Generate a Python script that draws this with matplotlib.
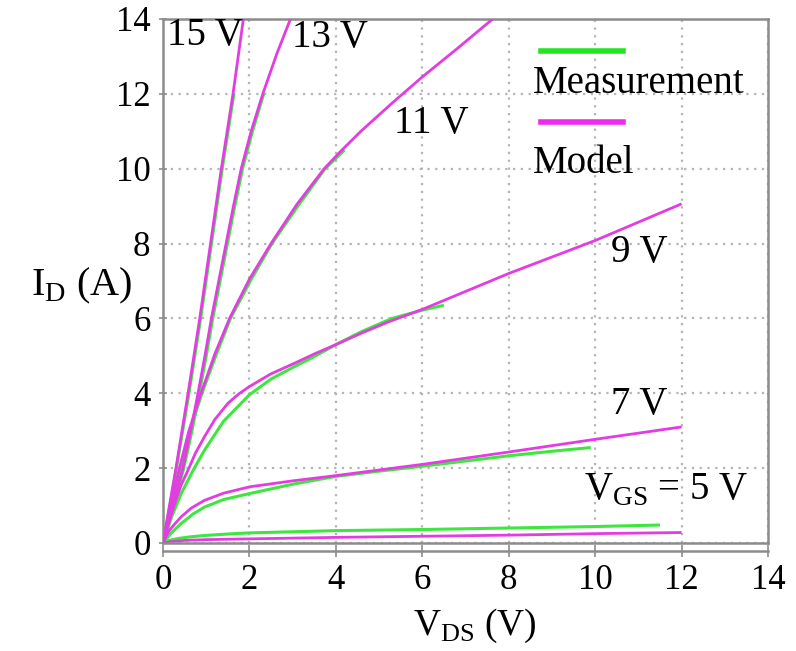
import matplotlib
matplotlib.use("Agg")
import matplotlib.pyplot as plt
from matplotlib.lines import Line2D

plt.rcParams['font.family'] = ['Liberation Serif', 'DejaVu Serif']
plt.rcParams['mathtext.fontset'] = 'custom'
plt.rcParams['mathtext.rm'] = 'Liberation Serif'

# Output characteristics I_D(V_DS) for several gate voltages
# model curves
vds_m15 = [0, 0.15, 0.30, 0.58, 0.85, 1.10, 1.35, 1.62, 1.74, 1.86]
id_m15 = [0, 1, 2, 4, 6, 8, 10, 12, 13, 14]
vds_m13 = [0, 0.25, 0.46, 0.64, 0.81, 0.97, 1.12, 1.29, 1.46, 1.63, 1.81, 2.04, 2.31, 2.63, 2.95]
id_m13 = [0, 1.1, 2, 3, 4, 5, 6, 7, 8, 9, 10, 11, 12, 13.06, 14]
vds_m11 = [0, 0.20, 0.38, 0.60, 0.88, 1.20, 1.54, 2.00, 2.50, 3.10, 3.73, 4.10, 4.58, 5.30, 6.00, 6.80, 7.63]
id_m11 = [0, 1.1, 2, 3.0, 4, 5.05, 6, 7.05, 8, 9.05, 10, 10.45, 11.0, 11.75, 12.45, 13.2, 14]
vds_m9 = [0, 0.10, 0.27, 0.42, 0.58, 0.75, 0.96, 1.20, 1.50, 1.75, 2.00, 2.50, 3.04, 3.50,
          4.00, 4.58, 5.20, 6.00, 7.00, 8.00, 9.00, 10.00, 11.00, 12.00]
id_m9 = [0, 0.42, 1.05, 1.55, 1.95, 2.40, 2.84, 3.30, 3.73, 3.98, 4.18, 4.52, 4.80, 5.05,
         5.30, 5.60, 5.90, 6.24, 6.72, 7.20, 7.64, 8.08, 8.57, 9.06]
vds_m7 = [0, 0.08, 0.15, 0.28, 0.42, 0.65, 0.96, 1.40, 2.0, 3.0, 4.0, 6.0, 8.0, 10.0, 12.0]
id_m7 = [0, 0.20, 0.34, 0.52, 0.70, 0.93, 1.14, 1.33, 1.50, 1.66, 1.80, 2.10, 2.43, 2.77, 3.10]
vds_m5 = [0, 0.2, 0.5, 1, 2, 4, 6, 8, 10, 12]
id_m5 = [0, 0.04, 0.07, 0.09, 0.11, 0.15, 0.18, 0.21, 0.25, 0.28]

# measured curves
vds_d15 = [0, 0.16, 0.31, 0.60, 0.87, 1.12, 1.37, 1.64]
id_d15 = [0, 1, 2, 4, 6, 8, 10, 12]
vds_d13 = [0, 0.27, 0.48, 0.67, 0.84, 1.00, 1.15, 1.32, 1.49, 1.66, 1.84, 2.07, 2.33]
id_d13 = [0, 1.1, 2, 3, 4, 5, 6, 7, 8, 9, 10, 11, 12]
vds_d11 = [0, 0.21, 0.40, 0.62, 0.90, 1.22, 1.56, 2.02, 2.52, 3.12, 3.75, 4.20]
id_d11 = [0, 1.05, 2, 3, 4, 5, 6, 7, 8, 9, 10, 10.5]
vds_d9 = [0, 0.20, 0.42, 0.70, 0.96, 1.40, 2.00, 2.50, 3.04, 3.50, 4.00, 4.60, 5.30, 6.00, 6.50]
id_d9 = [0, 0.70, 1.32, 1.95, 2.48, 3.25, 3.96, 4.38, 4.71, 4.98, 5.30, 5.65, 6.00, 6.22, 6.35]
vds_d7 = [0, 0.20, 0.42, 0.70, 0.96, 1.40, 2.0, 3.0, 4.0, 5.0, 6.0, 7.0, 8.0, 9.0, 9.9]
id_d7 = [0, 0.28, 0.52, 0.78, 0.96, 1.16, 1.32, 1.57, 1.78, 1.92, 2.05, 2.19, 2.33, 2.45, 2.55]
vds_d5 = [0, 0.15, 0.35, 0.60, 0.96, 1.5, 2, 3, 4, 6, 8, 10, 11.5]
id_d5 = [0, 0.07, 0.12, 0.16, 0.20, 0.24, 0.27, 0.30, 0.33, 0.36, 0.40, 0.44, 0.48]

green = '#3fe63f'
magenta = '#e23ce2'

fig = plt.figure(figsize=(7.96, 6.51), dpi=100)
ax = fig.add_axes([0.2048, 0.1659, 0.7600, 0.8050])

meas = [(vds_d5, id_d5), (vds_d7, id_d7), (vds_d9, id_d9),
        (vds_d11, id_d11), (vds_d13, id_d13), (vds_d15, id_d15)]
model = [(vds_m5, id_m5), (vds_m7, id_m7), (vds_m9, id_m9),
         (vds_m11, id_m11), (vds_m13, id_m13), (vds_m15, id_m15)]
for x, y in meas:
    ax.plot(x, y, color=green, lw=2.2, solid_capstyle='butt', zorder=3)
for x, y in model:
    ax.plot(x, y, color=magenta, lw=2.0, solid_capstyle='butt', zorder=4)

ax.set_xlim(0, 14)
ax.set_ylim(0, 14)
ax.set_xticks(range(0, 15, 2))
ax.set_yticks(range(0, 15, 2))
ax.grid(True, color='#b4b4b4', linestyle=(0, (1, 2.5)), linewidth=1.6)

for s in ax.spines.values():
    s.set_color('#8c8c8c')
    s.set_linewidth(1.8)
ax.spines['bottom'].set_position(('outward', 6))
ax.axhline(0, color='#8c8c8c', lw=1.8, clip_on=False, zorder=5)
ax.tick_params(axis='x', direction='inout', length=8, width=1.2,
               color='#8c8c8c', labelsize=25, pad=5)
ax.tick_params(axis='y', direction='inout', length=6, width=1.2,
               color='#8c8c8c', labelsize=25, pad=6)

ax.set_xlabel(r'V$_\mathrm{DS}$ (V)', fontsize=27, va='center')
ax.xaxis.set_label_coords(0.516, -0.158)
ax.set_ylabel(r'I$_\mathrm{D}$ (A)', fontsize=29, rotation=0, va='center', ha='center')
ax.yaxis.set_label_coords(-0.135, 0.49)

# curve labels
tkw = dict(fontsize=28, va='center', ha='left', zorder=6)
ax.text(0.10, 13.55, '15 V', **tkw)
ax.text(2.98, 13.5, '13 V', **tkw)
ax.text(5.35, 11.2, '11 V', **tkw)
ax.text(10.36, 7.75, '9 V', **tkw)
ax.text(10.36, 3.7, '7 V', **tkw)
ax.text(9.74, 1.4, r'V$_\mathrm{GS}$ = 5 V', **tkw)

# legend: line sample above its label
tr = ax.transAxes
ax.add_line(Line2D([0.624, 0.761], [0.938, 0.938], color='#22e622', lw=4, transform=tr))
ax.text(0.612, 0.876, 'Measurement', transform=tr, fontsize=28, va='center')
ax.add_line(Line2D([0.624, 0.761], [0.804, 0.804], color='#ee2aee', lw=4, transform=tr))
ax.text(0.612, 0.724, 'Model', transform=tr, fontsize=28, va='center')

fig.savefig('out.png', dpi=100)
